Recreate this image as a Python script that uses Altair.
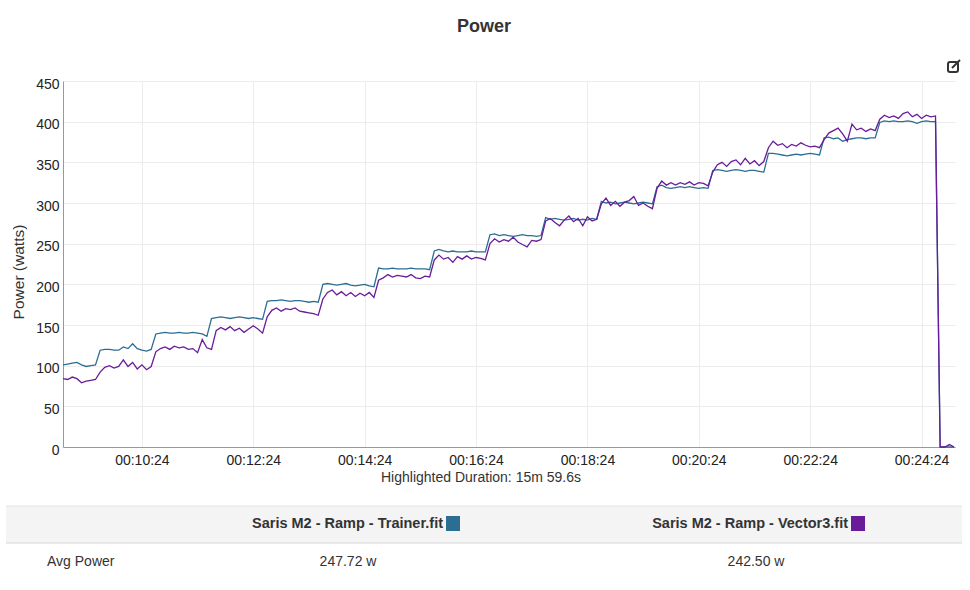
import altair as alt
import pandas as pd

# sample times (seconds into the ride), one sample every 5 s
t_s = list(range(539, 1500, 5))

trainer_w = [
    101, 102, 103, 104, 101, 99, 100, 101,
    119, 120, 120, 119, 119, 123, 121, 127, 121, 119, 118, 120,
    139, 140, 141, 140, 140, 141, 140, 140, 141, 140, 139, 136,
    158, 159, 160, 159, 158, 159, 160, 159, 158, 159, 158, 157,
    179, 180, 180, 181, 180, 179, 180, 180, 179, 178, 179, 178,
    200, 201, 200, 199, 200, 201, 199, 198, 199, 200, 198, 197,
    220, 219, 219, 220, 219, 219, 219, 220, 219, 219, 219, 218,
    241, 243, 241, 240, 241, 240, 240, 240, 241, 240, 240, 240,
    261, 262, 260, 261, 260, 259, 260, 261, 260, 260, 259, 260,
    282, 280, 281, 280, 279, 280, 281, 279, 280, 279, 281, 280,
    302, 300, 301, 299, 300, 301, 300, 299, 300, 301, 300, 299,
    320, 322, 319, 318, 319, 320, 319, 320, 319, 318, 319, 318,
    340, 341, 340, 339, 340, 341, 340, 339, 340, 340, 339, 338,
    361, 361, 360, 359, 358, 359, 360, 359, 360, 361, 360, 359,
    380, 381, 379, 380, 376, 378, 379, 380, 380, 379, 380, 380,
    399, 401, 400, 401, 400, 400, 401, 400, 398, 400, 401, 400, 400,
    0, 0, 0, 0,
]

vector_w = [
    84, 83, 86, 84, 79, 81, 82, 83,
    92, 98, 100, 97, 99, 107, 99, 104, 96, 101, 95, 99,
    117, 121, 123, 120, 124, 122, 123, 120, 121, 116, 132, 122,
    120, 143, 147, 144, 148, 143, 146, 141, 145, 149, 145, 140,
    160, 168, 171, 167, 170, 169, 171, 167, 166, 165, 164, 162,
    182, 190, 193, 187, 191, 186, 190, 185, 189, 186, 190, 184,
    205, 208, 212, 209, 211, 210, 209, 212, 208, 207, 210, 209,
    230, 236, 231, 233, 227, 234, 231, 235, 231, 233, 232, 230,
    250, 256, 252, 255, 253, 258, 252, 249, 246, 254, 253, 255,
    278, 281, 276, 272, 279, 284, 277, 281, 272, 283, 278, 280,
    299, 306, 297, 302, 296, 301, 303, 308, 297, 300, 296, 293,
    318, 327, 322, 325, 322, 325, 323, 326, 322, 325, 324, 321,
    338, 347, 350, 345, 351, 353, 347, 355, 348, 352, 346, 351,
    368, 376, 371, 373, 368, 372, 370, 374, 371, 369, 370, 368,
    378, 386, 389, 392, 385, 376, 397, 390, 392, 388, 391, 389,
    403, 408, 405, 407, 404, 410, 412, 406, 409, 404, 408, 406, 407,
    0, 0, 3, 0,
]

series_names = ["Saris M2 - Ramp - Trainer.fit", "Saris M2 - Ramp - Vector3.fit"]
series_colors = ["#2c6e93", "#6a1b9a"]
avg_power = ["247.72 w", "242.50 w"]
x_tick_s = [624, 744, 864, 984, 1104, 1224, 1344, 1464]
y_ticks = [0, 50, 100, 150, 200, 250, 300, 350, 400, 450]

FONT = "Liberation Sans"
TOP = 81
H = 366

df_tr = pd.DataFrame({"t": t_s, "watts": trainer_w})
df_ve = pd.DataFrame({"t": t_s, "watts": vector_w})
one = pd.DataFrame({"a": [0]})

label_expr = ("'00:' + (floor(datum.value/60) < 10 ? '0' : '') + floor(datum.value/60) + ':' + "
              "(datum.value % 60 < 10 ? '0' : '') + (datum.value % 60)")

x_enc = alt.X("t:Q", scale=alt.Scale(domain=[539, 1500], nice=False, zero=False),
              axis=alt.Axis(values=x_tick_s, labelExpr=label_expr, title=None, grid=True,
                            gridColor="#ececec", ticks=False, domainColor="#999999",
                            labelFontSize=14, labelColor="#222222", labelPadding=6,
                            labelFlush=False))
y_enc = alt.Y("watts:Q", scale=alt.Scale(domain=[0, 450], nice=False),
              axis=alt.Axis(values=y_ticks, title="Power (watts)", grid=True, gridColor="#ececec",
                            ticks=False, domainColor="#999999", labelFontSize=14,
                            labelColor="#222222", labelPadding=4, labelOffset=3,
                            titleFontSize=15.5, titleFontWeight="normal", titleColor="#333333",
                            titleX=-45, titleY=271.5 - TOP, titleAngle=270, titleBaseline="middle",
                            titleAlign="center"))

line_tr = alt.Chart(df_tr).mark_line(strokeWidth=1.3, color=series_colors[0]).encode(x=x_enc, y=y_enc)
line_ve = alt.Chart(df_ve).mark_line(strokeWidth=1.3, color=series_colors[1]).encode(x=x_enc, y=y_enc)


def txt(text, x, y, size=14, weight="normal", align="center", color="#333333"):
    return alt.Chart(one).mark_text(text=text, fontSize=size, fontWeight=weight, align=align,
                                    baseline="middle", color=color, font=FONT).encode(
        x=alt.value(x), y=alt.value(y - TOP))


title = txt("Power", 421, 27, size=18, weight="bold")
highlight = txt("Highlighted Duration: 15m 59.6s", 418, 478, size=14)


def rect(x1, x2, y1, y2, **kw):
    return alt.Chart(one).mark_rect(**kw).encode(
        x=alt.value(x1), x2=alt.value(x2), y=alt.value(y1 - TOP), y2=alt.value(y2 - TOP))


def hrule(x1, x2, y, color):
    return alt.Chart(one).mark_rule(color=color, strokeWidth=1).encode(
        x=alt.value(x1), x2=alt.value(x2), y=alt.value(y - TOP))


band = rect(-57, 899, 506, 543, color="#f4f4f4")
band_top = hrule(-57, 899, 506, "#e2e2e2")
band_bot = hrule(-57, 899, 543, "#d6d6d6")

head1 = txt(series_names[0], 380, 524, size=14.5, weight="bold", align="right")
head2 = txt(series_names[1], 785, 524, size=14.5, weight="bold", align="right")
sq1 = rect(383, 397, 516, 531, color=series_colors[0])
sq2 = rect(788, 802, 516, 531, color=series_colors[1])

row_lbl = txt("Avg Power", -16, 562, size=14, align="left")
row_v1 = txt(avg_power[0], 285, 562, size=14)
row_v2 = txt(avg_power[1], 693, 562, size=14)

icon_box = rect(885, 895, 62, 72, fill="white", stroke="#333333", strokeWidth=2, cornerRadius=2)
icon_pen = alt.Chart(one).mark_rule(color="#333333", strokeWidth=2).encode(
    x=alt.value(889), x2=alt.value(897), y=alt.value(68 - TOP), y2=alt.value(60 - TOP))

chart = alt.layer(
    band, band_top, band_bot,
    line_tr, line_ve,
    title, highlight, head1, head2, sq1, sq2, row_lbl, row_v1, row_v2,
    icon_box, icon_pen,
).properties(
    width=892, height=H,
    padding={"left": 63, "top": TOP, "right": 15, "bottom": 590 - TOP - H},
    autosize=alt.AutoSizeParams(type="none"),
    background="white",
).configure(font=FONT).configure_view(stroke=None)

chart.save("out.html", embed_options={"renderer": "svg", "actions": False})
